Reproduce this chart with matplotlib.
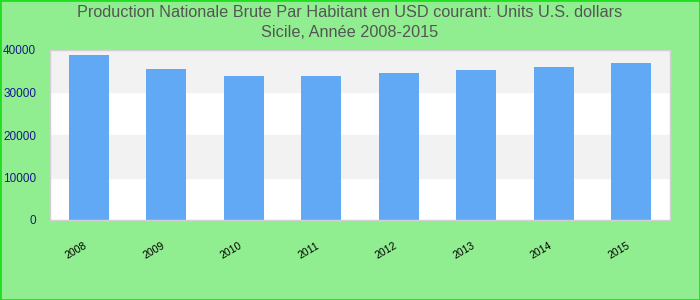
import matplotlib
matplotlib.use("Agg")
import matplotlib.pyplot as plt
from matplotlib.patches import Rectangle

years = ["2008", "2009", "2010", "2011", "2012", "2013", "2014", "2015"]
values = [38800, 35500, 33900, 33900, 34600, 35300, 36000, 36900]
yticks = [0, 10000, 20000, 30000, 40000]
title = "Production Nationale Brute Par Habitant en USD courant: Units U.S. dollars\nSicile, Année 2008-2015"

plt.rcParams['font.family'] = ['Liberation Sans', 'DejaVu Sans']

fig = plt.figure(figsize=(7, 3), dpi=100, facecolor='#90ee90')
ax = fig.add_axes([50/700, 1-220/300, 620/700, 170/300])
ax.set_facecolor('white')

# alternating bands
for i in range(len(yticks)-1):
    if i % 2 == 1:
        ax.axhspan(yticks[i], yticks[i+1], color='#f2f2f2', zorder=0)

x = list(range(len(years)))
ax.bar(x, values, width=0.52, color='#61a9f5', zorder=2)
ax.set_xlim(-0.5, len(years)-0.5)
ax.set_ylim(0, 40000)
ax.set_yticks(yticks)
ax.set_yticklabels([str(v) for v in yticks], color='#1a1a8c', fontsize=8.5)
ax.set_xticks(x)
ax.set_xticklabels(years, rotation=30, ha='right', fontsize=7.5, color='black')
ax.tick_params(axis='y', length=0, pad=10)
ax.tick_params(axis='x', length=0, pad=15)
for s in ax.spines.values():
    s.set_color('#d0d0d0')
    s.set_linewidth(1)

fig.text(0.5, 1-5/300, title, ha='center', va='top', fontsize=11.7,
         color='#555555', linespacing=1.45)

fig.patches.append(Rectangle((0, 0), 1, 1, transform=fig.transFigure,
                             fill=False, edgecolor='#22dd22', linewidth=2))

fig.savefig('out.png', dpi=100, facecolor=fig.get_facecolor())
